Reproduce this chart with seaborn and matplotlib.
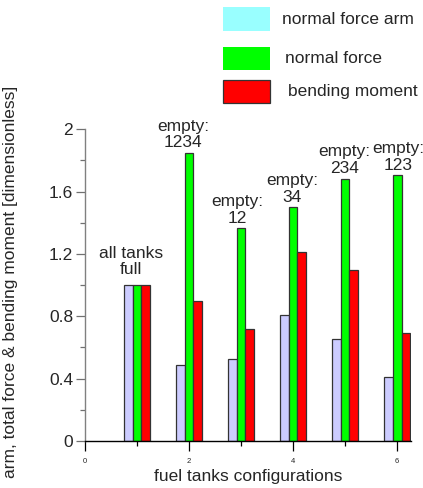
import matplotlib
matplotlib.use("Agg")
import matplotlib.pyplot as plt
import seaborn as sns
import pandas as pd
from matplotlib.patches import Rectangle
from matplotlib.ticker import MultipleLocator

# ---- data ----
configs = [1, 2, 3, 4, 5, 6]
normal_force_arm = [1.00, 0.488, 0.528, 0.807, 0.653, 0.409]
normal_force = [1.00, 1.850, 1.365, 1.500, 1.684, 1.705]
bending_moment = [1.00, 0.900, 0.719, 1.211, 1.096, 0.695]
series_names = ["normal force arm", "normal force", "bending moment"]
group_labels = ["all tanks\nfull", "empty:\n1234", "empty:\n12", "empty:\n34", "empty:\n234", "empty:\n123"]
x_ticks = [0, 2, 4, 6]
y_ticks = [0, 0.4, 0.8, 1.2, 1.6, 2]

# ---- layout / style ----
label_x = [0.885, 1.88, 2.92, 3.98, 4.99, 6.02]
bar_colors = ["#CCCCFF", "#00FF00", "#FF0000"]
legend_colors = ["#99FFFF", "#00FF00", "#FF0000"]

df = pd.DataFrame({
    "config": configs * 3,
    "value": normal_force_arm + normal_force + bending_moment,
    "series": [series_names[0]] * 6 + [series_names[1]] * 6 + [series_names[2]] * 6,
})

sns.set_style("white", {"xtick.bottom": True, "ytick.left": True})
plt.rcParams["font.family"] = ["Liberation Sans", "DejaVu Sans"]

W, H = 423, 488
fig = plt.figure(figsize=(W / 100, H / 100), dpi=100)
ax = fig.add_axes([85 / W, 1 - 441 / H, (410.7 - 85) / W, (441 - 129.3) / H])

sns.barplot(data=df, x="config", y="value", hue="series", hue_order=series_names,
            palette=bar_colors, saturation=1, native_scale=True, width=0.5, dodge=True,
            edgecolor="#333333", linewidth=0.9, legend=False, ax=ax, errorbar=None)

ax.set_xlim(0, 6.26)
ax.set_ylim(0, 2)
ax.set_xticks(x_ticks)
ax.set_xticklabels([str(t) for t in x_ticks], fontsize=5.5)
ax.xaxis.set_minor_locator(MultipleLocator(1))
ax.set_yticks(y_ticks)
ax.set_yticklabels(["0", "0.4", "0.8", "1.2", "1.6", "2"], fontsize=12.5)
ax.yaxis.set_minor_locator(MultipleLocator(0.2))

for s in ["top", "right"]:
    ax.spines[s].set_visible(False)
ax.spines["left"].set_color("#808080")
ax.spines["left"].set_linewidth(1.0)
ax.spines["bottom"].set_color("black")
ax.spines["bottom"].set_linewidth(1.0)

ax.tick_params(axis="y", which="major", direction="out", length=6.5, width=0.9, color="#707070", pad=2, left=True)
ax.tick_params(axis="y", which="minor", direction="out", length=3.6, width=0.9, color="#707070", left=True)
ax.tick_params(axis="x", which="major", direction="out", length=7, width=0.9, color="black", pad=5, bottom=True)
ax.tick_params(axis="x", which="minor", direction="out", length=3.6, width=0.9, color="black", bottom=True)

ax.set_xlabel("fuel tanks configurations", fontsize=12.5, labelpad=3)
ax.set_ylabel("arm, total force & bending moment [dimensionless]", fontsize=12.5)
ax.yaxis.set_label_coords(-0.205, 0.51)

tops = [max(a, b, c) for a, b, c in zip(normal_force_arm, normal_force, bending_moment)]
for i, (lx, lab) in enumerate(zip(label_x, group_labels)):
    off = 0.05 if i == 0 else 0.015
    ax.text(lx, tops[i] + off, lab, ha="center", va="bottom", fontsize=12.5,
            linespacing=1.15, clip_on=False)

# manual legend (figure pixel coords, top-down)
leg_boxes = [(223, 7, 47, 24), (223, 47, 47, 23), (223, 80, 47, 23)]
leg_text_x = [282, 285, 288]
leg_edges = ["none", "none", "#333333"]
for (x0, y0, w, h), col, ec, tx, name in zip(leg_boxes, legend_colors, leg_edges, leg_text_x, series_names):
    fig.patches.append(Rectangle((x0 / W, 1 - (y0 + h) / H), w / W, h / H,
                                 transform=fig.transFigure, facecolor=col,
                                 edgecolor=ec, linewidth=0.9))
    fig.text(tx / W, 1 - (y0 + h / 2) / H, name, ha="left", va="center", fontsize=12.5)

fig.savefig("out.png", dpi=100)
